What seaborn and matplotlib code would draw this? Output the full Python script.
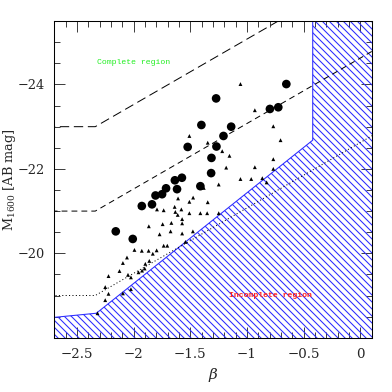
import matplotlib
matplotlib.use("Agg")
import matplotlib.pyplot as plt
from matplotlib.ticker import MultipleLocator, FixedLocator
import pandas as pd
import seaborn as sns

# ---------------- data ----------------
circle_beta = [-0.653, -1.273, -0.798, -0.724, -1.403, -1.140, -1.208, -1.524,
               -1.270, -1.314, -1.317, -1.575, -1.637, -1.412, -1.618, -1.715,
               -1.750, -1.808, -1.839, -1.929, -2.159, -2.009]
circle_M = [-24.01, -23.67, -23.42, -23.46, -23.04, -23.00, -22.78, -22.52,
            -22.53, -22.26, -21.90, -21.79, -21.73, -21.59, -21.52, -21.54,
            -21.40, -21.37, -21.16, -21.12, -20.52, -20.34]

tri_beta = [-1.058, -0.931, -1.509, -0.768, -0.704, -1.347, -1.219, -1.155,
            -0.768, -1.184, -0.931, -0.768, -1.250, -1.382, -1.058, -0.963,
            -0.865, -0.827, -1.476, -1.509, -1.347, -1.609, -1.639, -1.947,
            -1.795, -1.736, -1.633, -1.612, -1.580, -1.509, -1.412, -1.352,
            -1.250, -1.573, -1.573, -1.867, -1.745, -1.668, -1.772, -1.675,
            -1.573, -1.478, -1.544, -1.736, -1.704, -1.994, -1.929, -1.869,
            -1.832, -1.798, -2.060, -2.096, -2.126, -2.223, -2.252, -2.223,
            -2.252, -2.320, -2.096, -2.025, -2.051, -2.025, -1.863, -1.898,
            -1.904, -1.927, -1.958]
tri_M = [-24.01, -23.39, -22.78, -23.01, -22.68, -22.62, -22.42, -22.31,
         -22.23, -22.03, -22.04, -22.00, -21.63, -21.55, -21.76, -21.76,
         -21.78, -21.68, -21.32, -21.22, -21.21, -21.30, -21.10, -21.11,
         -21.04, -21.02, -20.98, -20.91, -21.04, -20.95, -20.95, -20.95,
         -20.95, -20.81, -20.71, -20.64, -20.69, -20.72, -20.45, -20.52,
         -20.47, -20.52, -20.27, -20.18, -20.18, -20.08, -20.06, -20.06,
         -19.99, -20.07, -19.90, -19.77, -19.58, -19.46, -19.20, -19.04,
         -18.89, -18.58, -19.05, -19.15, -19.49, -19.43, -19.82, -19.75,
         -19.64, -19.59, -19.55]

# selection limits (knots)
sel_beta = [-2.9, -2.34, 0.3]
long_M = [-23.0, -23.0, -27.09]
short_M = [-21.0, -21.0, -25.09]
dot_M = [-19.0, -19.0, -23.09]

# incomplete region outline
inc_beta = [-2.9, -2.33, -0.42, -0.42, 0.3, 0.3, -2.9]
inc_M = [-18.43, -18.58, -22.68, -25.8, -25.8, -17.7, -17.7]

x_ticks = [-2.5, -2.0, -1.5, -1.0, -0.5, 0.0]
x_labels = ["\u22122.5", "\u22122", "\u22121.5", "\u22121", "\u22120.5", "0"]
y_ticks = [-24, -22, -20]
y_labels = ["\u221224", "\u221222", "\u221220"]

# ---------------- figure ----------------
DPI = 84
sns.set_style("ticks")
plt.rcParams["font.family"] = ["DejaVu Serif", "DejaVu Sans"]
plt.rcParams["mathtext.fontset"] = "dejavuserif"
plt.rcParams["lines.scale_dashes"] = False
plt.rcParams["hatch.linewidth"] = 0.9
plt.rcParams["hatch.color"] = "#2a2aff"

fig = plt.figure(figsize=(392 / DPI, 392 / DPI), dpi=DPI)
fig.patch.set_facecolor("white")
ax = fig.add_axes([0.139, 0.1385, 0.809, 0.8075])
ax.set_facecolor("white")

blue = "#2a2aff"
ax.fill(inc_beta, inc_M, facecolor="none", edgecolor=blue, hatch="\\\\\\\\",
        linewidth=0.9, zorder=1)

ax.plot(sel_beta, long_M, color="black", lw=0.85, linestyle=(0, (8, 4)), zorder=2)
ax.plot(sel_beta, short_M, color="black", lw=0.85, linestyle=(0, (5, 3.5)), zorder=2)
ax.plot(sel_beta, dot_M, color="black", lw=0.85, linestyle=(0, (0.9, 2.0)), zorder=2)

df_c = pd.DataFrame({"beta": circle_beta, "M": circle_M})
df_t = pd.DataFrame({"beta": tri_beta, "M": tri_M})
sns.scatterplot(data=df_t, x="beta", y="M", marker="^", s=11, color="black",
                edgecolor="none", linewidth=0, ax=ax, zorder=3)
sns.scatterplot(data=df_c, x="beta", y="M", marker="o", s=55, color="black",
                edgecolor="none", linewidth=0, ax=ax, zorder=4)

ax.text(-2.0, -24.51, "Complete region", color="#22ee22", fontsize=7,
        family="Liberation Mono", ha="center", va="center")
ax.text(-0.796, -19.0, "Incomplete region", color="#ff2222", fontsize=7,
        family="Liberation Mono", fontweight="bold", ha="center", va="center")

ax.set_xlim(-2.7, 0.1)
ax.set_ylim(-18.0, -25.5)
ax.xaxis.set_major_locator(FixedLocator(x_ticks))
ax.set_xticklabels(x_labels)
ax.yaxis.set_major_locator(FixedLocator(y_ticks))
ax.set_yticklabels(y_labels)
ax.xaxis.set_minor_locator(MultipleLocator(0.1))
ax.yaxis.set_minor_locator(MultipleLocator(0.5))

ax.tick_params(which="both", direction="in", top=True, right=True,
               color="#333333", labelsize=11.5)
ax.tick_params(axis="y", labelsize=11)
ax.tick_params(which="major", length=9.4, width=0.8)
ax.tick_params(which="minor", length=4.9, width=0.8)
ax.tick_params(axis="x", which="major", pad=9)
ax.tick_params(axis="y", which="major", pad=8)
for sp in ax.spines.values():
    sp.set_linewidth(0.9)
    sp.set_color("black")
    sp.set_zorder(5)

ax.set_xlabel(r"$\beta$", fontsize=13, labelpad=4)
ax.set_ylabel(r"M$_{1600}$ [AB mag]", fontsize=11)
ax.yaxis.set_label_coords(-0.116, 0.5)

fig.savefig("out.png", dpi=DPI)
